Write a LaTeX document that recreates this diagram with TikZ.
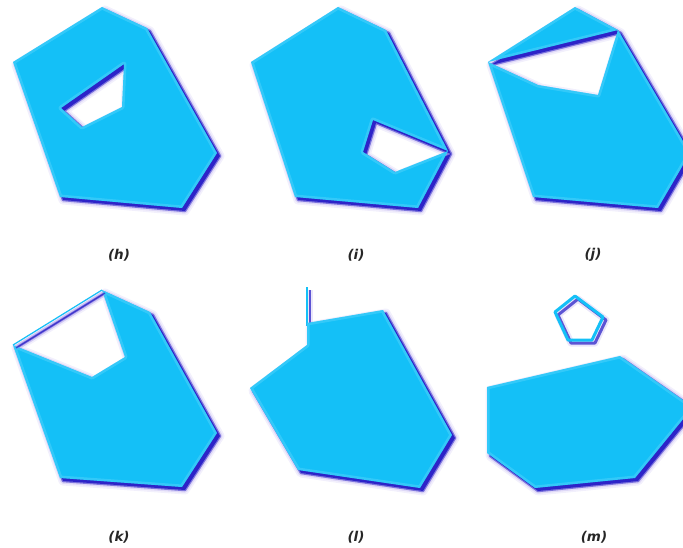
\documentclass[tikz,border=0pt]{standalone}
\usepackage{fontspec}
\setmainfont{DejaVu Sans}
\definecolor{cyanc}{RGB}{20,192,247}
\definecolor{cyanl}{RGB}{110,220,255}
\definecolor{shadc}{RGB}{45,35,200}
\definecolor{haloc}{RGB}{150,130,230}
\tikzset{
  lbl/.style={font=\fontsize{13.5}{15}\selectfont\bfseries\itshape, text=black!85},
  halo1/.style={draw=haloc, line width=9, opacity=.12, line join=round},
  halo2/.style={draw=haloc, line width=5.5, opacity=.22, line join=round},
  halo3/.style={draw=shadc, line width=2.5, opacity=.55, line join=round},
  shadowfill/.style={fill=shadc, even odd rule},
  mainfill/.style={fill=cyanc, even odd rule},
  inglow/.style={draw=cyanl, line width=5, opacity=.35, line join=round},
  shadoff/.style={shift={(3,3)}}
}
\newcommand\cutshape[1]{%
  \begin{scope}[shadoff]
    \path[halo1] #1;
    \path[halo2] #1;
    \path[halo3] #1;
    \path[shadowfill] #1;
  \end{scope}
  \path[mainfill] #1;
  \begin{scope}[even odd rule]
    \clip #1;
    \path[inglow] #1;
  \end{scope}}
\newcommand\cutline[2]{%
  \begin{scope}[shadoff]
    \path[draw=haloc, line width=#2+4, opacity=.2, line join=round] #1;
    \path[draw=shadc, line width=#2, opacity=.75, line join=round] #1;
  \end{scope}
  \path[draw=cyanc, line width=#2, line join=round] #1;}
\begin{document}
\begin{tikzpicture}[x=1pt,y=-1pt]
\useasboundingbox (0,0) rectangle (683,547);
\clip (0,0) rectangle (683,547);
% (h)
\cutshape{(102,7) -- (147,28) -- (217,153) -- (182,208) -- (60,197) -- (13,62) -- cycle
          (124,64) -- (122,107) -- (82,127) -- (61,108) -- cycle}
% (i)
\cutshape{(338,7) -- (386,30) -- (448,151) -- (418,208) -- (295,197) -- (251,62) -- cycle
          (373,120) -- (448,151) -- (395,172) -- (363,152) -- cycle}
% (j)
\cutshape{(575,7) -- (618,30) -- (690,153) -- (658,208) -- (533,197) -- (488,62) -- cycle
          (488,62) -- (618,30) -- (598,95) -- (538,85) -- cycle}
% (k)
\cutshape{(102,290) -- (150,312) -- (217,433) -- (182,487) -- (60,478) -- (13,345) -- cycle
          (13,345) -- (102,290) -- (125,357) -- (92,377) -- cycle}
\cutline{(13,345) -- (102,290)}{1.2}
% (l)
\cutline{(307,287) -- (307,326)}{2.2}
\cutshape{(307,345) -- (307,323) -- (383,310) -- (452,435) -- (420,488) -- (298,470) -- (250,388) -- cycle}
% (m)
\cutline{(575,296) -- (603,317) -- (592,340) -- (568,340) -- (555,312) -- cycle}{3}
\cutshape{(487,387) -- (620,356) -- (693,407) -- (635,478) -- (535,488) -- (487,453) -- cycle}
% labels
\node[lbl] (lh) at (119,255) {(h)};
\node[lbl] (li) at (356,255) {(i)};
\node[lbl] (lj) at (593,255) {(j)};
\node[lbl] (lk) at (119,537) {(k)};
\node[lbl] (ll) at (356,537) {(l)};
\node[lbl] (lm) at (594,537) {(m)};
\end{tikzpicture}
\end{document}
